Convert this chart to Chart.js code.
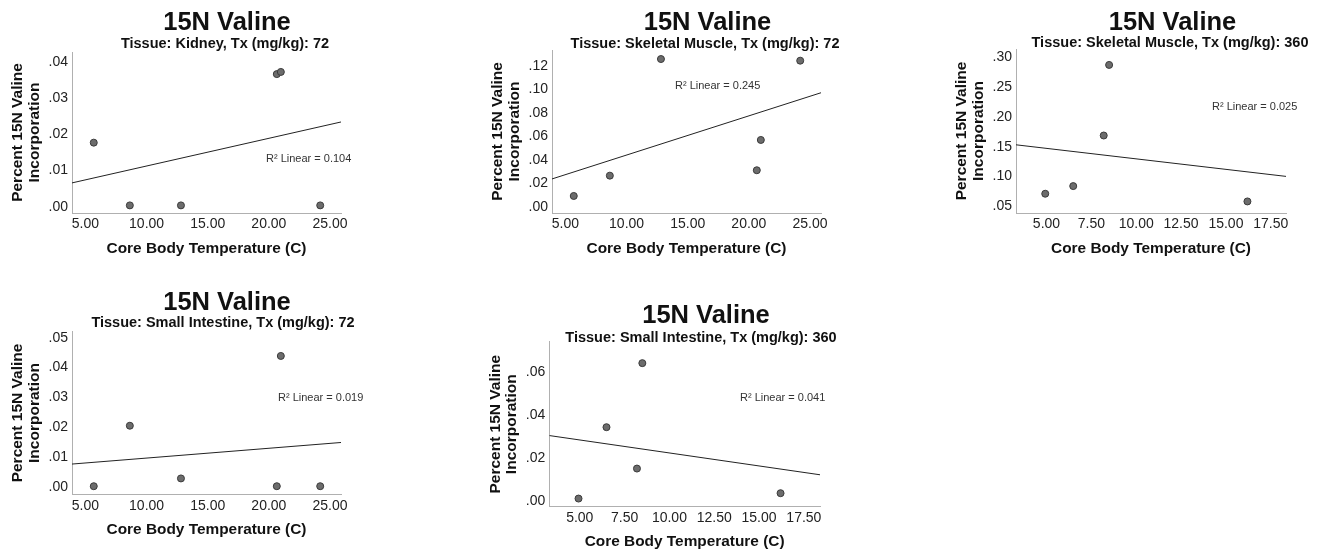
<!DOCTYPE html>
<html>
<head>
<meta charset="utf-8">
<script src="https://cdn.jsdelivr.net/npm/chart.js@4"></script>
<style>
  html, body { margin: 0; padding: 0; background: #ffffff; }
  #wrap { position: relative; width: 1323px; height: 556px; background: #ffffff; overflow: hidden; }
  canvas { position: absolute; }
</style>
</head>
<body>
<div id="wrap">
  <canvas id="p1" width="440" height="280" style="left:0px;top:0px;"></canvas>
  <canvas id="p2" width="440" height="280" style="left:480px;top:0px;"></canvas>
  <canvas id="p3" width="380" height="280" style="left:943px;top:0px;"></canvas>
  <canvas id="p4" width="440" height="276" style="left:0px;top:280px;"></canvas>
  <canvas id="p5" width="440" height="276" style="left:480px;top:280px;"></canvas>
</div>
<script>
// ---------------- DATA ----------------
const mainTitle = '15N Valine';
const subtitles = [
  'Tissue: Kidney, Tx (mg/kg): 72',
  'Tissue: Skeletal Muscle, Tx (mg/kg): 72',
  'Tissue: Skeletal Muscle, Tx (mg/kg): 360',
  'Tissue: Small Intestine, Tx (mg/kg): 72',
  'Tissue: Small Intestine, Tx (mg/kg): 360'
];
const xAxisTitle = 'Core Body Temperature (C)';
const yAxisTitle = ['Percent 15N Valine', 'Incorporation'];

// core body temperatures (C)
const temps72  = [5.68, 8.63, 12.81, 20.65, 20.98, 24.20];
const temps360 = [4.93, 6.49, 8.19, 8.49, 16.20];

// percent 15N valine incorporation
const kidney72     = [0.0177, 0.0004, 0.0004, 0.0366, 0.0372, 0.0004];
const muscle72     = [0.0091, 0.0264, 0.1257, 0.0310, 0.0568, 0.1243];
const muscle360    = [0.0713, 0.0841, 0.1689, 0.2872, 0.0584];
const intestine72  = [0.0004, 0.0206, 0.0030, 0.0004, 0.0439, 0.0004];
const intestine360 = [0.0011, 0.0344, 0.0151, 0.0643, 0.0036];

// fitted linear lines (end points)
const fitX72  = [3.9, 25.9];
const fitX360 = [3.3, 18.4];
const kidney72Fit     = [0.0066, 0.0234];
const muscle72Fit     = [0.0236, 0.0970];
const muscle360Fit    = [0.1533, 0.1002];
const intestine72Fit  = [0.0078, 0.0150];
const intestine360Fit = [0.0305, 0.0122];

// R squared labels
const rSquared = ['0.104', '0.245', '0.025', '0.019', '0.041'];

// tick values
const xTicks72  = [5, 10, 15, 20, 25];
const xTicks360 = [5, 7.5, 10, 12.5, 15, 17.5];
const yTicksKidney72     = [0, 0.01, 0.02, 0.03, 0.04];
const yTicksMuscle72     = [0, 0.02, 0.04, 0.06, 0.08, 0.10, 0.12];
const yTicksMuscle360    = [0.05, 0.10, 0.15, 0.20, 0.25, 0.30];
const yTicksIntestine72  = [0, 0.01, 0.02, 0.03, 0.04, 0.05];
const yTicksIntestine360 = [0, 0.02, 0.04, 0.06];

// ---------------- DRAWING ----------------
const FONT = "'Liberation Sans', Arial, Helvetica, sans-serif";

const panelText = {
  id: 'panelText',
  afterDraw(chart, args, opts) {
    const ctx = chart.ctx;
    (opts.items || []).forEach(it => {
      ctx.save();
      ctx.font = it.font;
      ctx.fillStyle = it.color;
      ctx.textAlign = it.align || 'center';
      ctx.textBaseline = 'middle';
      ctx.fillText(it.text, it.x, it.y);
      ctx.restore();
    });
  }
};

function yFmt(v) {
  return Number(v).toFixed(2).replace(/^(-?)0\./, '$1.');
}

function makePanel(id, cfg) {
  const canvas = document.getElementById(id);
  const W = canvas.width, H = canvas.height;
  const XH = 45;
  new Chart(canvas, {
    type: 'scatter',
    data: {
      datasets: [
        {
          data: cfg.xs.map((x, i) => ({ x: x, y: cfg.ys[i] })),
          pointRadius: 3.5,
          pointHoverRadius: 3.5,
          pointBackgroundColor: '#6c6c6c',
          pointBorderColor: '#3a3a3a',
          pointBorderWidth: 1
        },
        {
          data: cfg.fitX.map((x, i) => ({ x: x, y: cfg.fitY[i] })),
          showLine: true,
          pointRadius: 0,
          borderColor: '#222222',
          borderWidth: 1
        }
      ]
    },
    options: {
      responsive: false,
      animation: false,
      devicePixelRatio: 1,
      events: [],
      layout: {
        padding: { left: cfg.L - 72, top: cfg.T, right: W - cfg.R, bottom: H - cfg.B - XH }
      },
      plugins: {
        legend: { display: false },
        title: { display: false },
        tooltip: { enabled: false },
        panelText: {
          items: [
            { text: mainTitle, x: cfg.titleX, y: cfg.titleY, font: 'bold 25.5px ' + FONT, color: '#111111' },
            { text: cfg.subtitle, x: cfg.subX, y: cfg.subY, font: 'bold 14.5px ' + FONT, color: '#111111' },
            { text: 'R\u00B2 Linear = ' + cfg.r2, x: cfg.r2X, y: cfg.r2Y, font: '11px ' + FONT, color: '#333333', align: 'left' }
          ]
        }
      },
      scales: {
        x: {
          type: 'linear',
          position: 'bottom',
          bounds: 'data',
          min: cfg.xMin,
          max: cfg.xMax,
          grid: { display: false, drawTicks: false },
          border: { display: true, color: '#b0b0b0', width: 1 },
          afterBuildTicks: ax => { ax.ticks = cfg.xTicks.map(v => ({ value: v })); },
          afterFit: ax => { ax.height = XH; },
          ticks: {
            autoSkip: false, maxRotation: 0, minRotation: 0, padding: 3,
            color: '#222222', font: { family: FONT, size: 14 },
            callback: v => Number(v).toFixed(2)
          },
          title: {
            display: true, text: xAxisTitle, color: '#111111',
            font: { family: FONT, size: 15.4, weight: 'bold', lineHeight: 1.2 },
            padding: { top: 0, bottom: 0.5 }
          }
        },
        y: {
          type: 'linear',
          position: 'left',
          bounds: 'data',
          min: cfg.yMin,
          max: cfg.yMax,
          grid: { display: false, drawTicks: false },
          border: { display: true, color: '#b0b0b0', width: 1 },
          afterBuildTicks: ax => { ax.ticks = cfg.yTicks.map(v => ({ value: v })); },
          afterFit: ax => { ax.width = 72; },
          ticks: {
            autoSkip: false, padding: 4,
            color: '#222222', font: { family: FONT, size: 14 },
            callback: v => yFmt(v)
          },
          title: {
            display: true, text: yAxisTitle, color: '#111111',
            font: { family: FONT, size: 15.5, weight: 'bold', lineHeight: 1.05 },
            padding: { top: 10, bottom: 0 }
          }
        }
      }
    },
    plugins: [panelText]
  });
}

makePanel('p1', {
  xs: temps72, ys: kidney72, fitX: fitX72, fitY: kidney72Fit,
  xTicks: xTicks72, yTicks: yTicksKidney72,
  xMin: 3.9, xMax: 25.9, yMin: -0.0017, yMax: 0.0427,
  L: 72, R: 341, T: 52, B: 213,
  subtitle: subtitles[0], titleX: 227, titleY: 23, subX: 225, subY: 44,
  r2: rSquared[0], r2X: 266, r2Y: 158.7
});

makePanel('p2', {
  xs: temps72, ys: muscle72, fitX: fitX72, fitY: muscle72Fit,
  xTicks: xTicks72, yTicks: yTicksMuscle72,
  xMin: 3.9, xMax: 25.9, yMin: -0.0054, yMax: 0.1334,
  L: 72, R: 341, T: 50, B: 213,
  subtitle: subtitles[1], titleX: 227.5, titleY: 23, subX: 225, subY: 44,
  r2: rSquared[1], r2X: 195, r2Y: 86
});

makePanel('p3', {
  xs: temps360, ys: muscle360, fitX: fitX360, fitY: muscle360Fit,
  xTicks: xTicks360, yTicks: yTicksMuscle360,
  xMin: 3.3, xMax: 18.35, yMin: 0.039, yMax: 0.3139,
  L: 73, R: 343, T: 49, B: 213,
  subtitle: subtitles[2], titleX: 229.5, titleY: 22.5, subX: 227, subY: 42.5,
  r2: rSquared[2], r2X: 269, r2Y: 106.7
});

makePanel('p4', {
  xs: temps72, ys: intestine72, fitX: fitX72, fitY: intestine72Fit,
  xTicks: xTicks72, yTicks: yTicksIntestine72,
  xMin: 3.9, xMax: 25.9, yMin: -0.0023, yMax: 0.052,
  L: 72, R: 341, T: 51.7, B: 214.3,
  subtitle: subtitles[3], titleX: 227, titleY: 22.5, subX: 223, subY: 42.5,
  r2: rSquared[3], r2X: 278, r2Y: 118.3
});

makePanel('p5', {
  xs: temps360, ys: intestine360, fitX: fitX360, fitY: intestine360Fit,
  xTicks: xTicks360, yTicks: yTicksIntestine360,
  xMin: 3.3, xMax: 18.4, yMin: -0.0027, yMax: 0.0743,
  L: 69.3, R: 340, T: 61.7, B: 226.7,
  subtitle: subtitles[4], titleX: 226, titleY: 36, subX: 221, subY: 58,
  r2: rSquared[4], r2X: 260, r2Y: 118.3
});
</script>
</body>
</html>
